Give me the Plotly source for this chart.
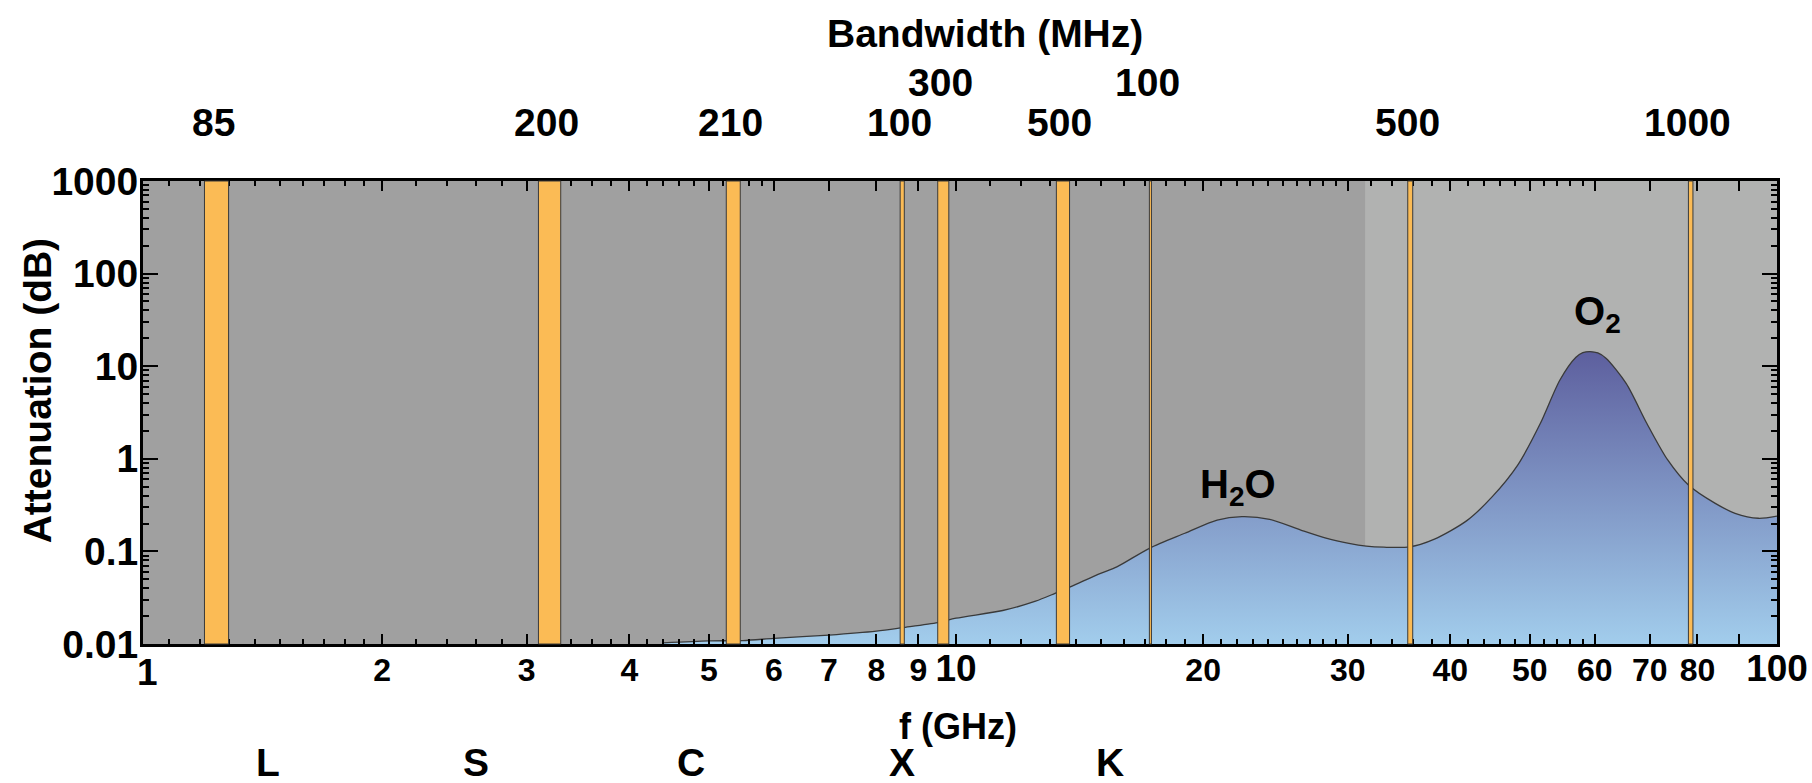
import math
import plotly.graph_objects as go

# ---------------- data ----------------
freq_ghz = [4.4, 5.0, 5.5, 6.0, 7.0, 8.0, 8.6, 9.5, 10.0, 11.4, 12.5, 13.2, 13.8,
            15.0, 15.7, 17.2, 19.0, 20.8, 22.3, 24.1, 26.3, 28.3, 30.1, 31.6, 33.2,
            35.7, 38.2, 41.9, 45.0, 48.3, 51.5, 54.4, 56.9, 58.0, 59.2, 60.5, 61.9,
            65.5, 69.4, 73.6, 78.0, 84.1, 88.9, 94.9, 100.0]
atten_db = [0.0103, 0.0108, 0.0109, 0.0115, 0.0125, 0.0138, 0.0150, 0.0170, 0.0190,
            0.0230, 0.0290, 0.0352, 0.0416, 0.058, 0.068, 0.108, 0.157, 0.218, 0.237,
            0.222, 0.170, 0.138, 0.122, 0.114, 0.111, 0.112, 0.135, 0.215, 0.39,
            0.85, 2.42, 7.10, 12.5, 14.0, 14.4, 13.9, 12.2, 6.53, 2.42, 0.971, 0.521,
            0.330, 0.258, 0.228, 0.241]

band_lo_ghz = [1.215, 3.10, 5.25, 8.55, 9.50, 13.25, 17.20, 35.5, 78.0]
band_hi_ghz = [1.300, 3.30, 5.46, 8.65, 9.80, 13.75, 17.30, 36.0, 79.0]
bandwidth_labels = ["85", "200", "210", "100", "300", "500", "100", "500", "1000"]
bandwidth_row = [0, 0, 0, 0, 1, 0, 1, 0, 0]

band_letters = ["L", "S", "C", "X", "K"]
band_letter_ghz = [1.45, 2.6, 4.75, 8.6, 15.4]

light_region_ghz = [31.5, 100.0]

x_tick_vals = [1, 2, 3, 4, 5, 6, 7, 8, 9, 10, 20, 30, 40, 50, 60, 70, 80, 90, 100]
x_tick_labels = ["1", "2", "3", "4", "5", "6", "7", "8", "9", "10", "20", "30", "40",
                 "50", "60", "70", "80", "", "100"]
y_tick_vals = [0.01, 0.1, 1, 10, 100, 1000]
y_tick_labels = ["0.01", "0.1", "1", "10", "100", "1000"]

x_minor_vals = ([1.1, 1.2, 1.3, 1.4, 1.5, 1.6, 1.7, 1.8, 1.9, 2.2, 2.4, 2.6, 2.8,
                 3.2, 3.4, 3.6, 3.8, 4.2, 4.4, 4.6, 4.8, 5.2, 5.4, 5.6, 5.8]
                + list(range(11, 20)) + list(range(21, 30))
                + [32, 34, 36, 38, 42, 44, 46, 48, 52, 54, 56, 58])
y_minor_vals = [m * 10 ** e for e in range(-2, 3) for m in range(2, 10)]

# ---------------- styling ----------------
FONT = "Liberation Sans, Arial, sans-serif"
BIG = 39
SMALL = 32
DECADE = 37

def xt(lbl):
    if lbl in ("10", "100"):
        return '<span style="font-size:%dpx">%s</span>' % (DECADE, lbl)
    return lbl

def bold(size):
    return dict(family=FONT, size=size, color="black", weight="bold")

fig = go.Figure()

# baseline for the fill
fig.add_trace(go.Scatter(x=[freq_ghz[0], freq_ghz[-1]], y=[0.01, 0.01], mode="lines",
                         line=dict(width=0, color="rgba(0,0,0,0)"),
                         hoverinfo="skip", showlegend=False))
fig.add_trace(go.Scatter(
    x=freq_ghz, y=atten_db, mode="lines",
    line=dict(color="#3a3a3a", width=1.3, shape="spline", smoothing=0.8),
    fill="tonexty",
    fillgradient=dict(type="vertical", colorscale=[[0, "#a2cdec"], [1, "#5d5f9e"]]),
    showlegend=False, name="Attenuation"))

shapes = [dict(type="rect", xref="x", yref="paper", x0=light_region_ghz[0],
               x1=light_region_ghz[1], y0=0, y1=1, fillcolor="#b1b2b1",
               line=dict(width=0), layer="below")]
for lo, hi in zip(band_lo_ghz, band_hi_ghz):
    shapes.append(dict(type="rect", xref="x", yref="paper", x0=lo, x1=hi, y0=0, y1=1,
                       fillcolor="#fbbb55", line=dict(color="#3a3a3a", width=1),
                       layer="above"))

annotations = []
row_y = [1.1264, 1.2138]
for lo, hi, lbl, row in zip(band_lo_ghz, band_hi_ghz, bandwidth_labels, bandwidth_row):
    annotations.append(dict(x=math.log10(math.sqrt(lo * hi)), xref="x", y=row_y[row],
                            yref="paper", text=lbl, showarrow=False, xanchor="center",
                            yanchor="middle", xshift=-3, font=bold(BIG)))
for lbl, f in zip(band_letters, band_letter_ghz):
    annotations.append(dict(x=math.log10(f), xref="x", y=-0.257, yref="paper", text=lbl,
                            showarrow=False, xanchor="center", yanchor="middle",
                            font=bold(BIG)))
annotations += [
    dict(x=0.5153, y=1.3175, xref="paper", yref="paper", text="Bandwidth (MHz)",
         showarrow=False, xanchor="center", yanchor="middle", font=bold(BIG)),
    dict(x=0.499, y=-0.179, xref="paper", yref="paper", text="f (GHz)",
         showarrow=False, xanchor="center", yanchor="middle", font=bold(36)),
    dict(x=-0.0648, y=0.546, xref="paper", yref="paper", text="Attenuation (dB)",
         textangle=-90, showarrow=False, xanchor="center", yanchor="middle",
         font=bold(BIG)),
    dict(x=0.003, y=-0.062, xref="paper", yref="paper", text="1", showarrow=False,
         xanchor="center", yanchor="middle", font=bold(DECADE)),
    dict(x=math.log10(22.05), xref="x", y=0.339, yref="paper", text="H<sub>2</sub>O",
         showarrow=False, xanchor="center", yanchor="middle", font=bold(40)),
    dict(x=math.log10(60.5), xref="x", y=0.712, yref="paper", text="O<sub>2</sub>",
         showarrow=False, xanchor="center", yanchor="middle", font=bold(40)),
]

axis_common = dict(showgrid=False, zeroline=False, showline=True, linecolor="black",
                   linewidth=3, mirror="ticks", ticks="inside", tickcolor="black",
                   tickwidth=2, automargin=False)

fig.update_layout(
    width=1812, height=783,
    margin=dict(l=143, r=35, t=181, b=139, pad=0, autoexpand=False),
    paper_bgcolor="white", plot_bgcolor="#a0a0a0",
    showlegend=False,
    shapes=shapes, annotations=annotations,
    xaxis=dict(type="log", range=[0.0097, 2.0], tickmode="array",
               tickvals=x_tick_vals, ticktext=[xt(t) for t in x_tick_labels],
               ticklen=10, tickfont=bold(SMALL), ticklabelstandoff=-4,
               minor=dict(tickmode="array", tickvals=x_minor_vals, ticks="inside",
                          ticklen=5, tickwidth=1.5, tickcolor="black"),
               **axis_common),
    yaxis=dict(type="log", range=[-2, 3], tickmode="array", tickvals=y_tick_vals,
               ticktext=y_tick_labels, ticklen=15, ticklabelstandoff=-6,
               tickfont=bold(BIG),
               minor=dict(tickmode="array", tickvals=y_minor_vals, ticks="inside",
                          ticklen=6, tickwidth=1.5, tickcolor="black"),
               **axis_common),
)

fig.write_html("out.html")
